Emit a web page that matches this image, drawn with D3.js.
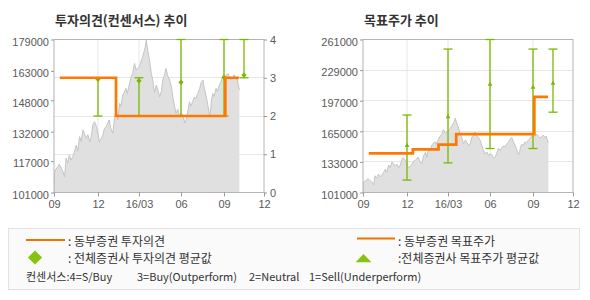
<!DOCTYPE html>
<html>
<head>
<meta charset="utf-8">
<script src="https://cdnjs.cloudflare.com/ajax/libs/d3/7.8.5/d3.min.js"></script>
<style>
body { margin: 0; background: #fff; }
svg { display: block; font-family: "Noto Sans CJK KR", "Liberation Sans", sans-serif; }
.tick text { font-family: "Liberation Sans", sans-serif; font-size: 11px; fill: #5a5a5a; }
.tick line { stroke: #999; }
</style>
</head>
<body>
<div id="chart"></div>
<script>

// x axis (monthly ticks)
var xTickDates = ["2015-09-01", "2015-12-01", "2016-03-01", "2016-06-01", "2016-09-01", "2016-12-01"];
var xTickLabels = ["09", "12", "16/03", "06", "09", "12"];

// daily close
var priceDates = ["2015-09-01","2015-09-02","2015-09-04","2015-09-09","2015-09-12","2015-09-16","2015-09-19","2015-09-23","2015-09-26","2015-09-29",
    "2015-10-03","2015-10-06","2015-10-10","2015-10-13","2015-10-17","2015-10-20","2015-10-24","2015-10-27","2015-10-31",
    "2015-11-03","2015-11-07","2015-11-10","2015-11-14","2015-11-17","2015-11-21","2015-11-24","2015-11-28",
    "2015-12-01","2015-12-04","2015-12-08","2015-12-12","2015-12-15","2015-12-19","2015-12-22","2015-12-26","2015-12-29",
    "2016-01-03","2016-01-07","2016-01-11","2016-01-14","2016-01-18","2016-01-21","2016-01-25","2016-01-28",
    "2016-02-01","2016-02-04","2016-02-09","2016-02-12","2016-02-16","2016-02-20","2016-02-24",
    "2016-03-02","2016-03-05","2016-03-09","2016-03-13","2016-03-15","2016-03-17","2016-03-20","2016-03-24","2016-03-28","2016-03-31",
    "2016-04-04","2016-04-08","2016-04-12","2016-04-15","2016-04-19","2016-04-22","2016-04-26","2016-04-29",
    "2016-05-03","2016-05-07","2016-05-11","2016-05-14","2016-05-17","2016-05-21","2016-05-25","2016-05-29",
    "2016-06-01","2016-06-05","2016-06-09","2016-06-12","2016-06-16","2016-06-19","2016-06-22","2016-06-26","2016-06-29",
    "2016-07-03","2016-07-06","2016-07-11","2016-07-14","2016-07-18","2016-07-21","2016-07-25","2016-07-28",
    "2016-08-01","2016-08-03","2016-08-05","2016-08-08","2016-08-11","2016-08-15","2016-08-18","2016-08-22","2016-08-25","2016-08-29",
    "2016-09-02","2016-09-06","2016-09-10","2016-09-13","2016-09-17","2016-09-21","2016-09-24","2016-09-29",
    "2016-10-01","2016-10-03","2016-10-06"];
var priceClose = [101500,111000,112500,114200,115500,113400,112000,109100,118500,116000,
    120200,117500,119300,121500,125200,122000,129500,127000,132900,
    131000,128600,130500,126900,129500,136300,137000,134600,
    131000,126900,128500,130300,133500,134600,136000,138000,134000,
    131200,139700,143000,138000,146400,145000,150700,152000,
    154100,151500,156600,159500,161700,166800,163400,
    165100,167500,170200,173600,175500,178700,173600,168500,161700,158300,
    152000,155800,153000,149800,152500,158300,161000,164200,
    160500,158300,155000,149800,146000,141300,143500,139700,
    141500,140500,136500,138000,143000,147300,145000,147300,149500,
    149000,151000,154100,157000,158300,154100,149800,146000,
    140500,142000,148100,151500,150000,154100,152500,155800,157000,160000,
    158500,160900,161700,160000,158300,159100,161000,158300,
    160000,156600,153200];

// 동부증권 투자의견 (step line)
var ratingDates = ["2015-09-13", "2016-01-10", "2016-09-04", "2016-10-05"];
var ratingValues = [3, 2, 3, 3];

// 동부증권 목표주가 (step line)
var targetDates = ["2015-09-13", "2015-12-14", "2016-02-09", "2016-03-19", "2016-09-04", "2016-10-05"];
var targetValues = [142000, 146000, 151000, 162000, 201000, 201000];

// 전체증권사 consensus range
var consensusDates = ["2015-12-01", "2016-03-01", "2016-06-01", "2016-09-01", "2016-10-16"];
var ratingMin = [2, 2, 2, 2, 3];
var ratingAvg = [2.96, 2.92, 2.88, 3.01, 3.07];
var ratingMax = [3, 3, 4, 4, 4];
var targetMin = [114000, 132000, 147000, 147000, 185000];
var targetAvg = [150000, 180000, 214000, 211000, 215000];
var targetMax = [182000, 251000, 261000, 251000, 251000];

// axis ticks
var priceTicksLeft = [101000, 117000, 132000, 148000, 163000, 179000];
var ratingTicks = [0, 1, 2, 3, 4];
var priceTicksRight = [101000, 133000, 165000, 197000, 229000, 261000];


var parseDate = d3.timeParse("%Y-%m-%d");
var orange = "#ff7800", green = "#7ab800";

var svg = d3.select("#chart").append("svg")
    .attr("width", 590)
    .attr("height", 300);

svg.append("rect").attr("width", 590).attr("height", 300).attr("fill", "#fff");

var plotTop = 39.5, plotWidth = 210, plotHeight = 153;

var priceData = priceDates.map(function(d, i) { return {date: parseDate(d), value: priceClose[i]}; });

// one chart panel
function createPanel(cfg) {
    var vis = {};
    var width = plotWidth, height = plotHeight;

    vis.g = svg.append("g")
        .attr("transform", "translate(" + cfg.left + "," + plotTop + ")");

    vis.x = d3.scaleTime()
        .domain(xTickDates.map(parseDate))
        .range([0, 44, 85, 127, 170, 210]);
    vis.yPrice = d3.scaleLinear().domain(cfg.priceDomain).range([height, 0]);
    vis.y = d3.scaleLinear().domain(cfg.domain).range([height, 0]);

    // title
    svg.append("text")
        .attr("x", cfg.left + 1)
        .attr("y", 25)
        .attr("font-size", "13px")
        .attr("font-weight", "bold")
        .attr("fill", "#333")
        .text(cfg.title);

    vis.g.append("clipPath")
        .attr("id", cfg.id + "-clip")
        .append("rect")
        .attr("width", width)
        .attr("height", height);

    // grid
    vis.g.selectAll(".hgrid")
        .data(cfg.gridTicks)
        .enter().append("line")
        .attr("x1", 0).attr("x2", width)
        .attr("y1", function(d) { return Math.round(vis.y(d)); })
        .attr("y2", function(d) { return Math.round(vis.y(d)); })
        .attr("stroke", "#e6e6e6");

    vis.g.selectAll(".vgrid")
        .data(xTickDates.slice(1, -1))
        .enter().append("line")
        .attr("x1", function(d) { return Math.round(vis.x(parseDate(d))); })
        .attr("x2", function(d) { return Math.round(vis.x(parseDate(d))); })
        .attr("y1", 0).attr("y2", height)
        .attr("stroke", "#e6e6e6");

    // price area
    var area = d3.area()
        .x(function(d) { return vis.x(d.date); })
        .y0(height)
        .y1(function(d) { return vis.yPrice(d.value); });
    var line = d3.line()
        .x(function(d) { return vis.x(d.date); })
        .y(function(d) { return vis.yPrice(d.value); });

    vis.g.append("path")
        .datum(priceData)
        .attr("clip-path", "url(#" + cfg.id + "-clip)")
        .attr("fill", "#e0e0e0")
        .attr("d", area);
    vis.g.append("path")
        .datum(priceData)
        .attr("clip-path", "url(#" + cfg.id + "-clip)")
        .attr("fill", "none")
        .attr("stroke", "#c4c4c4")
        .attr("stroke-width", 1)
        .attr("d", line);

    // frame
    vis.g.append("rect")
        .attr("width", width)
        .attr("height", height)
        .attr("fill", "none")
        .attr("stroke", "#b4b4b4");

    // consensus bars
    var bars = vis.g.selectAll(".cbar")
        .data(consensusDates)
        .enter().append("g")
        .attr("transform", function(d) { return "translate(" + Math.round(vis.x(parseDate(d))) + ",0)"; });

    bars.append("line")
        .attr("y1", function(d, i) { return vis.y(cfg.minVals[i]); })
        .attr("y2", function(d, i) { return vis.y(cfg.maxVals[i]); })
        .attr("stroke", green).attr("stroke-width", 1.3);
    bars.append("line")
        .attr("x1", -4.5).attr("x2", 4.5)
        .attr("y1", function(d, i) { return vis.y(cfg.minVals[i]); })
        .attr("y2", function(d, i) { return vis.y(cfg.minVals[i]); })
        .attr("stroke", green).attr("stroke-width", 1.3);
    bars.append("line")
        .attr("x1", -4.5).attr("x2", 4.5)
        .attr("y1", function(d, i) { return vis.y(cfg.maxVals[i]); })
        .attr("y2", function(d, i) { return vis.y(cfg.maxVals[i]); })
        .attr("stroke", green).attr("stroke-width", 1.3);

    // house step line
    var stepData = cfg.stepDates.map(function(d, i) { return {date: parseDate(d), value: cfg.stepValues[i]}; });
    vis.g.append("path")
        .datum(stepData)
        .attr("fill", "none")
        .attr("stroke", orange)
        .attr("stroke-width", 2.7)
        .attr("d", d3.line()
            .curve(d3.curveStepAfter)
            .x(function(d) { return vis.x(d.date); })
            .y(function(d) { return vis.y(d.value); }));

    // average markers
    bars.append("path")
        .attr("transform", function(d, i) {
            return "translate(0," + vis.y(cfg.avgVals[i]) + ")" + (cfg.marker === "diamond" ? " rotate(45)" : "");
        })
        .attr("d", d3.symbol()
            .type(cfg.marker === "diamond" ? d3.symbolSquare : d3.symbolTriangle)
            .size(cfg.marker === "diamond" ? 14 : 10))
        .attr("fill", green);

    // axes
    vis.g.append("g")
        .attr("transform", "translate(0," + height + ")")
        .call(d3.axisBottom(vis.x)
            .tickValues(xTickDates.map(parseDate))
            .tickFormat(function(d, i) { return xTickLabels[i]; })
            .tickSize(4)
            .tickPadding(4))
        .call(function(g) { g.select(".domain").remove(); });

    vis.g.append("g")
        .call(d3.axisLeft(vis.yPrice)
            .tickValues(cfg.priceTicks)
            .tickFormat(d3.format("d"))
            .tickSize(3)
            .tickPadding(2))
        .call(function(g) {
            g.select(".domain").remove();
            g.selectAll("text").attr("dy", "0.52em");
        });

    if (cfg.rightTicks) {
        vis.g.append("g")
            .attr("transform", "translate(" + width + ",0)")
            .call(d3.axisRight(vis.y)
                .tickValues(cfg.rightTicks)
                .tickFormat(d3.format("d"))
                .tickSize(3)
                .tickPadding(3))
            .call(function(g) { g.select(".domain").remove(); });
    }

    return vis;
}

createPanel({
    id: "opinion",
    left: 54,
    title: "투자의견(컨센서스) 추이",
    priceDomain: [101000, 179000],
    priceTicks: priceTicksLeft,
    domain: [0, 4],
    gridTicks: [1, 2, 3],
    rightTicks: ratingTicks,
    stepDates: ratingDates,
    stepValues: ratingValues,
    minVals: ratingMin,
    avgVals: ratingAvg,
    maxVals: ratingMax,
    marker: "diamond"
});

createPanel({
    id: "target",
    left: 363,
    title: "목표주가 추이",
    priceDomain: [101000, 261000],
    priceTicks: priceTicksRight,
    domain: [101000, 261000],
    gridTicks: priceTicksRight.slice(1, -1),
    rightTicks: null,
    stepDates: targetDates,
    stepValues: targetValues,
    minVals: targetMin,
    avgVals: targetAvg,
    maxVals: targetMax,
    marker: "triangle"
});

// legend
var legend = svg.append("g");

legend.append("rect")
    .attr("x", 8.5).attr("y", 228.5)
    .attr("width", 571).attr("height", 61)
    .attr("fill", "#fafafa")
    .attr("stroke", "#e2e2e2");

legend.append("line")
    .attr("x1", 26).attr("x2", 65).attr("y1", 240).attr("y2", 240)
    .attr("stroke", "#f07000").attr("stroke-width", 2);
legend.append("line")
    .attr("x1", 357).attr("x2", 395).attr("y1", 238.5).attr("y2", 238.5)
    .attr("stroke", "#f07000").attr("stroke-width", 2);

legend.append("path")
    .attr("transform", "translate(35,257.5) rotate(45)")
    .attr("d", d3.symbol().type(d3.symbolSquare).size(100))
    .attr("fill", "#86c20e");
legend.append("path")
    .attr("transform", "translate(363.5,259.5) scale(1.15,0.7)")
    .attr("d", d3.symbol().type(d3.symbolTriangle).size(80))
    .attr("fill", "#86c20e");

var legendText = [
    {x: 68, y: 245.5, t: ": 동부증권 투자의견"},
    {x: 68, y: 263, t: ": 전체증권사 투자의견 평균값"},
    {x: 398, y: 245.5, t: ": 동부증권 목표주가"},
    {x: 398, y: 263, t: ":전체증권사 목표주가 평균값"}
];
legend.selectAll(".ltext")
    .data(legendText)
    .enter().append("text")
    .attr("x", function(d) { return d.x; })
    .attr("y", function(d) { return d.y; })
    .attr("font-size", "12px")
    .attr("fill", "#333")
    .text(function(d) { return d.t; });

var consensusNote = [
    {x: 26, t: "컨센서스:4=S/Buy"},
    {x: 137, t: "3=Buy(Outperform)"},
    {x: 249, t: "2=Neutral"},
    {x: 309, t: "1=Sell(Underperform)"}
];
legend.selectAll(".ntext")
    .data(consensusNote)
    .enter().append("text")
    .attr("x", function(d) { return d.x; })
    .attr("y", 281)
    .attr("font-size", "11px")
    .attr("fill", "#333")
    .text(function(d) { return d.t; });

</script>
</body>
</html>
